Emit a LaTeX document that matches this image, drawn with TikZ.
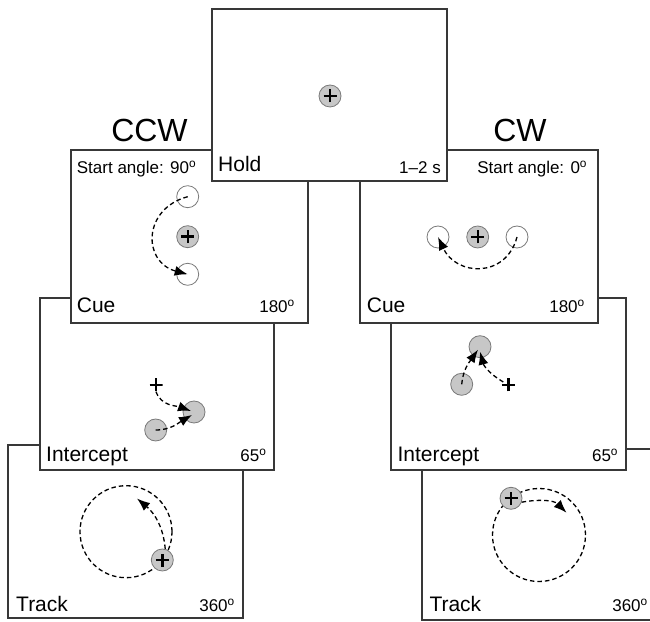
\documentclass[tikz,border=0pt]{standalone}
\usepackage{fontspec}
\setmainfont{Liberation Sans}
\usetikzlibrary{arrows.meta}

\definecolor{framecol}{gray}{0.22}
\definecolor{rimcol}{gray}{0.48}
\definecolor{discfill}{gray}{0.78}
\newcommand{\angdeg}{\textsuperscript{o}}

\begin{document}
\begin{tikzpicture}[x=1pt,y=1pt,
  panel/.style={rectangle, draw=framecol, fill=white, line width=1.1pt, inner sep=0pt},
  disc/.style={circle, draw=rimcol, line width=0.8pt, fill=discfill, minimum size=22pt, inner sep=0pt},
  hollow/.style={disc, fill=white},
  crossmark/.style={path picture={
      \draw[black, line width=2.4pt]
        ([xshift=-6.5pt]path picture bounding box.center) -- ([xshift=6.5pt]path picture bounding box.center)
        ([yshift=-6.5pt]path picture bounding box.center) -- ([yshift=6.5pt]path picture bounding box.center);}},
  plusmark/.style={rectangle, minimum size=13pt, inner sep=0pt, crossmark},
  ring/.style={circle, draw=black, line width=1.3pt, dash pattern=on 4.5pt off 3pt, minimum size=92pt, inner sep=0pt},
  flow/.style={draw=black, line width=1.3pt, dash pattern=on 4.5pt off 3pt, -{Latex[length=13pt,width=10pt]}},
  lbl/.style={inner sep=0pt, font=\fontsize{21}{24}\selectfont},
  small/.style={inner sep=0pt, font=\fontsize{17}{20}\selectfont},
  title/.style={inner sep=0pt, font=\fontsize{32}{36}\selectfont}]

\useasboundingbox (0,0) rectangle (650,621);
\clip (0,0) rectangle (650,621);

% panels, back to front
\node[panel, minimum width=235pt, minimum height=173pt] (ccwtrackp) at (125.5,89.5) {};
\node[panel, minimum width=235pt, minimum height=171pt] (cwtrackp) at (539.5,86.5) {};
\node[panel, minimum width=234pt, minimum height=172pt] (ccwintp) at (157,237) {};
\node[panel, minimum width=235pt, minimum height=172pt] (cwintp) at (508.5,237) {};
\node[panel, minimum width=237pt, minimum height=173pt] (ccwcuep) at (189.5,384.5) {};
\node[panel, minimum width=238pt, minimum height=173pt] (cwcuep) at (479,384.5) {};
\node[panel, minimum width=235pt, minimum height=172pt] (holdp) at (329.5,526) {};

% titles
\node[title] (ccwtitle) at (149.5,491) {CCW};
\node[title] (cwtitle) at (520,491) {CW};

% hold
\node[disc, crossmark] (holdfix) at (330,525) {};

% CCW cue
\node[hollow] (ccwstart) at (187.7,424.3) {};
\node[disc, crossmark] (ccwfix) at (187.7,384.3) {};
\node[hollow] (ccwend) at (187.7,346.7) {};
\draw[flow] (ccwstart.center) to[out=195, in=165, looseness=1.55] (ccwend.center);

% CW cue
\node[hollow] (cwend) at (438,384) {};
\node[disc, crossmark] (cwfix) at (477.7,384) {};
\node[hollow] (cwstart) at (517,384) {};
\draw[flow] (cwstart.center) to[out=-105, in=-65, looseness=1.4] (cwend.center);

% CCW intercept
\node[plusmark] (ccwhand) at (156,236) {};
\node[disc] (ccwtarget) at (194,209) {};
\node[disc] (ccwcursor) at (155.7,191) {};
\draw[flow] (ccwhand.south) to[out=-70, in=160] ([shift={(-3pt,1pt)}]ccwtarget.center);
\draw[flow] (ccwcursor.center) to[out=0, in=210] ([shift={(-2pt,-3pt)}]ccwtarget.center);

% CW intercept
\node[disc] (cwtarget) at (480,274.3) {};
\node[disc] (cwcursor) at (461.7,236.7) {};
\node[plusmark] (cwhand) at (508.3,236) {};
\draw[flow] (cwcursor.center) to[out=85, in=235] ([shift={(-2pt,-3pt)}]cwtarget.center);
\draw[flow] ([shift={(-5pt,3pt)}]cwhand.center) to[out=150, in=-75] ([shift={(0pt,-5pt)}]cwtarget.center);

% CCW track
\node[ring] (ccwring) at (126,89.3) {};
\node[disc, crossmark] (ccwtrk) at (162.3,61) {};
\coordinate (ccwtip) at (137,122.5);
\draw[flow] (ccwtrk.75) to[out=95, in=-40] (ccwtip);

% CW track
\node[ring, minimum size=93pt] (cwring) at (539,86) {};
\node[disc, crossmark] (cwtrk) at (511,122.7) {};
\coordinate (cwtip) at (566.5,108.3);
\draw[flow] (cwtrk.-20) to[out=10, in=135] (cwtip);

% panel labels
\node[lbl, anchor=base west] (holdlbl) at (218,449.3) {Hold};
\node[small, anchor=base east] (holdtime) at (441,447) {1–2 s};
\node[small, anchor=base west] (ccwangle) at (76.7,447.7) {Start angle: 90\angdeg};
\node[small, anchor=base east] (cwangle) at (587.3,447.7) {Start angle: 0\angdeg};
\node[lbl, anchor=base west] (ccwcuelbl) at (76.7,308) {Cue};
\node[small, anchor=base east] (ccwcuedeg) at (295,308) {180\angdeg};
\node[lbl, anchor=base west] (cwcuelbl) at (366.7,308) {Cue};
\node[small, anchor=base east] (cwcuedeg) at (585,308) {180\angdeg};
\node[lbl, anchor=base west] (ccwintlbl) at (46,159.3) {Intercept};
\node[small, anchor=base east] (ccwintdeg) at (266.7,159) {65\angdeg};
\node[lbl, anchor=base west] (cwintlbl) at (397.3,159.3) {Intercept};
\node[small, anchor=base east] (cwintdeg) at (618.3,159) {65\angdeg};
\node[lbl, anchor=base west] (ccwtrklbl) at (16,9.3) {Track};
\node[small, anchor=base east] (ccwtrkdeg) at (235,9.3) {360\angdeg};
\node[lbl, anchor=base west] (cwtrklbl) at (429.3,9.3) {Track};
\node[small, anchor=base east] (cwtrkdeg) at (648,9.3) {360\angdeg};

\end{tikzpicture}
\end{document}
